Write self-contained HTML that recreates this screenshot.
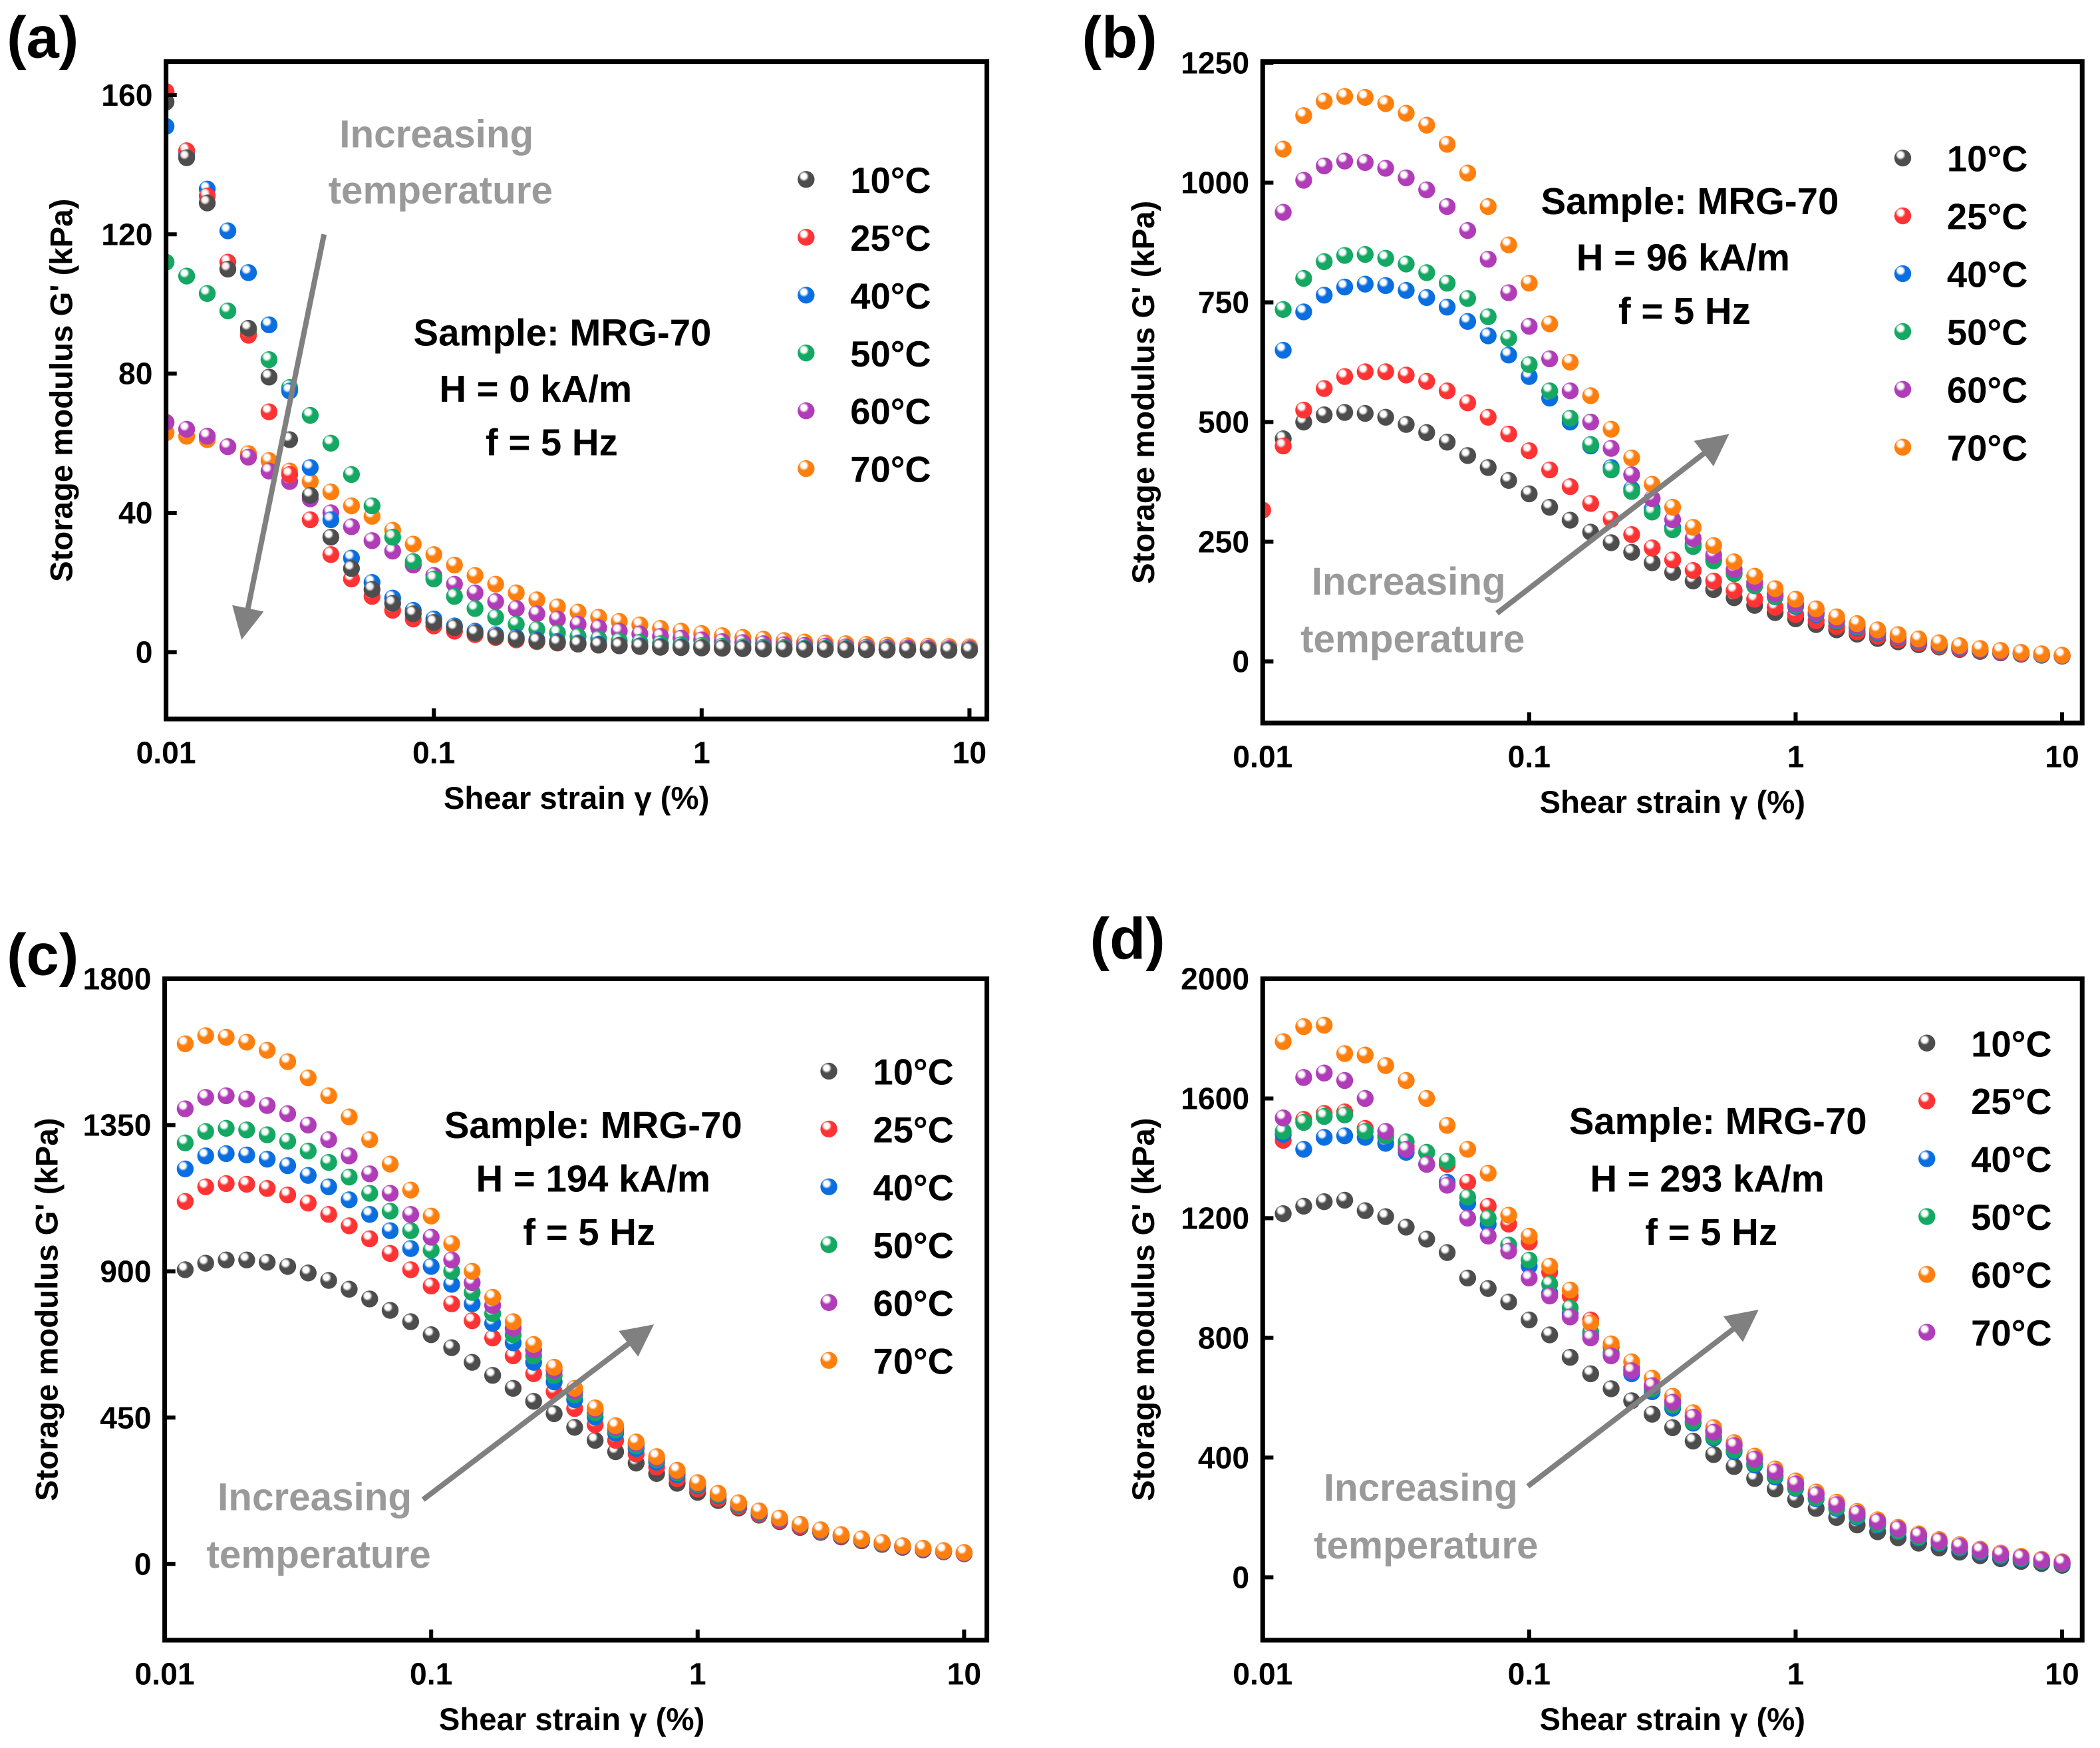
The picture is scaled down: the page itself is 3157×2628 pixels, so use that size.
<!DOCTYPE html>
<html><head><meta charset="utf-8"><title>Storage modulus vs shear strain</title>
<style>
html,body{margin:0;padding:0;background:#fff;}
svg{display:block;}
text{font-family:"Liberation Sans",Arial,sans-serif;font-weight:bold;}
</style></head>
<body>
<svg id="fig" width="3157" height="2628" viewBox="0 0 1568.3 1305.5" xmlns="http://www.w3.org/2000/svg">
<defs>
<marker id="ah" markerWidth="6" markerHeight="6" refX="4" refY="3" orient="auto" markerUnits="strokeWidth"><path d="M0,0 L6,3 L0,6 z" fill="#808080"/></marker>
</defs>
</svg>
<script>
// strain grid: 13 points per decade from 0.01 to 10
const strainIndex = Array.from({length:40},(_,i)=>i);
const seriesLabels = ["10°C","25°C","40°C","50°C","60°C","70°C"];
const seriesColors = ["#4d4d4d","#ff3333","#0a6ee0","#14a862","#b03cb8","#ff7f0e"];
const colorsD = ["#4d4d4d","#ff3333","#0a6ee0","#14a862","#ff7f0e","#b03cb8"];

// Panel (a) H = 0 kA/m  (start index 0)
const a10 = [158,142,129,110,93,79,61,45,33,24,18,14,11,8.5,7,5.5,4.5,3.8,3.2,2.7,2.3,2,1.8,1.6,1.4,1.3,1.2,1.1,1,0.9,0.9,0.8,0.8,0.7,0.7,0.6,0.6,0.6,0.5,0.5];
const a25 = [161,144,131,112,91,69,51,38,28,21,16,12,9.5,7.5,6,5,4.2,3.5,3,2.6,2.3,2,1.8,1.6,1.4,1.3,1.2,1.1,1,0.9,0.9,0.8,0.8,0.7,0.7,0.6,0.6,0.6,0.5,0.5];
const a40 = [151,143,133,121,109,94,75,53,38,27,20,15.5,12,9.5,7.5,6,5,4.2,3.5,3,2.6,2.3,2,1.8,1.6,1.5,1.3,1.2,1.1,1,0.9,0.9,0.8,0.8,0.7,0.7,0.7,0.6,0.6,0.6];
const a50 = [112,108,103,98,92,84,76,68,60,51,42,33,26,21,16,12.5,10,8,6.5,5.5,4.5,3.8,3.2,2.8,2.4,2.1,1.9,1.7,1.5,1.4,1.3,1.2,1.1,1,0.9,0.9,0.8,0.8,0.7,0.7];
const a60 = [66,64,62,59,56,52,49,44,40,36,32,29,25,22,19.5,17,14.5,12.5,11,9.5,8,7,6,5.2,4.5,4,3.5,3,2.7,2.4,2.1,1.9,1.7,1.5,1.4,1.3,1.2,1.1,1,1];
const a70 = [63,62,61,59,57,55,52,49,46,42,39,35,31,28,25,22,19.5,17,15,13,11.5,10,8.8,7.8,6.8,6,5.3,4.7,4.2,3.7,3.3,2.9,2.6,2.4,2.2,2,1.8,1.7,1.6,1.5];

// Panel (b) H = 96 kA/m (start index 1; 25°C starts at 0)
const b10 = [465,500,515,520,518,510,495,478,458,430,405,378,350,322,295,270,248,228,206,186,168,150,133,117,102,89,77,66,57,48,41,35,30,25,21,18,15,13,11];
const b25 = [316,450,525,570,595,605,605,598,585,565,540,510,475,440,400,365,330,297,265,237,212,190,168,148,130,113,98,85,73,62,53,45,38,32,27,23,19,16,14,12];
const b40 = [650,730,765,782,788,785,775,760,740,710,680,640,595,550,500,450,405,360,318,280,245,213,185,158,135,115,98,83,70,59,50,42,35,29,24,20,17,14,12];
const b50 = [735,800,835,848,850,842,830,812,790,758,720,675,620,565,508,453,400,355,312,275,240,210,183,158,136,117,100,85,72,61,51,43,36,30,25,21,17,14,12];
const b60 = [938,1005,1035,1045,1042,1030,1010,985,950,900,840,770,700,632,565,500,445,390,340,296,257,222,192,165,141,120,102,87,74,62,52,44,37,31,26,21,18,15,12];
const b70 = [1070,1140,1170,1180,1178,1165,1145,1120,1080,1020,950,870,790,705,625,555,485,425,370,322,280,242,208,178,152,130,110,93,79,66,56,47,39,33,27,23,19,16,13];

// Panel (c) H = 194 kA/m (start index 1)
const c10 = [905,925,935,935,928,915,895,872,845,815,780,745,705,665,620,580,540,500,462,420,380,345,310,278,248,220,195,172,150,130,112,97,83,71,60,51,43,37,31];
const c25 = [1115,1160,1170,1168,1155,1135,1110,1075,1040,1000,955,905,855,800,748,695,640,585,530,478,428,380,338,298,262,230,201,176,153,133,115,99,85,73,62,53,45,38,32];
const c40 = [1215,1255,1262,1258,1245,1225,1195,1160,1120,1075,1025,970,915,860,800,740,680,620,560,505,452,402,355,313,274,240,209,182,158,137,118,101,87,74,63,54,46,39,33];
const c50 = [1295,1330,1340,1335,1320,1300,1270,1235,1190,1140,1085,1025,965,900,835,770,705,640,580,520,465,412,363,320,280,244,212,184,160,138,119,102,88,75,64,55,47,40,34];
const c60 = [1400,1435,1440,1430,1410,1385,1350,1305,1255,1200,1140,1075,1005,935,865,795,725,658,595,532,475,420,370,325,284,247,215,186,161,139,120,103,89,76,65,55,47,40,34];
const c70 = [1600,1625,1620,1605,1580,1545,1495,1440,1375,1305,1230,1150,1070,985,900,820,745,675,605,540,480,425,375,330,288,250,217,188,163,141,122,105,90,77,66,56,48,41,35];

// Panel (d) H = 293 kA/m (start index 1)
const d10 = [1215,1240,1255,1260,1225,1205,1170,1130,1085,1000,965,920,860,810,735,680,630,590,545,500,455,410,370,330,295,260,230,200,175,152,132,114,98,84,72,62,53,46,40];
const d25 = [1460,1530,1550,1555,1500,1470,1440,1420,1380,1320,1240,1180,1120,1020,940,860,770,700,640,590,540,490,445,400,355,315,278,243,212,184,159,137,118,101,87,74,63,54,46];
const d40 = [1480,1430,1470,1475,1470,1450,1420,1380,1320,1250,1180,1110,1040,950,880,810,745,680,620,565,515,465,420,375,335,297,262,230,201,175,152,131,113,97,83,71,61,52,45];
const d50 = [1490,1520,1540,1545,1490,1475,1455,1420,1390,1270,1200,1110,1060,980,900,820,750,690,630,575,520,470,425,380,340,300,265,233,204,178,155,134,116,100,86,74,63,54,46];
const d60 = [1790,1840,1845,1750,1745,1710,1660,1600,1510,1430,1350,1210,1140,1040,960,850,780,720,665,605,550,500,450,405,362,322,285,251,220,192,167,145,126,109,94,81,70,60,52];
const d70 = [1535,1670,1685,1660,1600,1490,1430,1380,1310,1200,1140,1090,1000,940,870,800,740,690,640,585,535,485,440,395,352,312,276,243,213,186,162,140,121,104,90,77,66,57,49];

const xTickLabels = ["0.01","0.1","1","10"];
const aTicks = [0,40,80,120,160];
const bTicks = [0,250,500,750,1000,1250];
const cTicks = [0,450,900,1350,1800];
const dTicks = [0,400,800,1200,1600,2000];

const NS = "http://www.w3.org/2000/svg";
const svg = document.getElementById("fig");
function mk(tag, attrs, parent){
  const e = document.createElementNS(NS, tag);
  for (const k in attrs) e.setAttribute(k, attrs[k]);
  (parent||svg).appendChild(e);
  return e;
}
function strainOf(i){ return 0.01*Math.pow(10, i/13); }

const defs = svg.querySelector("defs");
const allColors = ["#4d4d4d","#ff3333","#0a6ee0","#14a862","#b03cb8","#ff7f0e"];
allColors.forEach((c,k)=>{
  const g = mk("radialGradient",{id:"g"+k,cx:"0.4",cy:"0.35",r:"0.65",fx:"0.35",fy:"0.3"},defs);
  mk("stop",{offset:"0",  "stop-color":"#ffffff"},g);
  mk("stop",{offset:"0.25","stop-color":"#ffffff","stop-opacity":"0.9"},g);
  mk("stop",{offset:"0.45","stop-color":c},g);
  mk("stop",{offset:"1","stop-color":c},g);
});
function gradFor(c){ return "url(#g"+allColors.indexOf(c)+")"; }

function panel(p){
  const L=p.box[0],T=p.box[1],R=p.box[2],B=p.box[3];
  const xs = v => p.x0 + Math.log10(v/0.01)*p.dec;
  const ys = v => p.y0 - v*p.yk;
  const grp = mk("g",{});
  
  
  const clip = mk("clipPath",{id:"clip"+p.id},defs);
  mk("rect",{x:L,y:T,width:R-L,height:B-T},clip);
  const sg = mk("g",{"clip-path":"url(#clip"+p.id+")"},grp);
  const n = p.series.length;
  for (let k=0;k<n;k++){
    const s = p.blackOnTop ? n-1-k : k;
    const vals=p.series[s], st=p.starts[s], col=p.colors[s];
    const g2 = mk("g",{},sg);
    
    
    vals.forEach((v,j)=>{
      const i = strainIndex[st+j];
      const c = mk("circle",{cx:xs(strainOf(i)),cy:ys(v),r:6.3,fill:gradFor(col)},g2);
      
      
    });
  }
  const fr = mk("rect",{x:L,y:T,width:R-L,height:B-T,fill:"none",stroke:"#000","stroke-width":3.5},grp);
  
  
  xTickLabels.forEach((lab)=>{
    const x = xs(parseFloat(lab));
    mk("line",{x1:x,y1:B,x2:x,y2:B-8,stroke:"#000","stroke-width":3},grp);
    const t = mk("text",{x:x,y:B+33,"text-anchor":"middle","font-size":23},grp);
    t.textContent=lab;
    
    
  });
  p.ticks.forEach(v=>{
    const y = ys(v);
    mk("line",{x1:L,y1:y,x2:L+8,y2:y,stroke:"#000","stroke-width":3},grp);
    const t = mk("text",{x:L-10,y:y+8,"text-anchor":"end","font-size":23},grp);
    t.textContent=String(v);
    
    
  });
  const xt = mk("text",{x:(L+R)/2-(p.id==="c"?3:0),y:B+67,"text-anchor":"middle","font-size":23.5},grp);
  xt.textContent="Shear strain γ (%)";
  
  
  const cy=(T+B)/2;
  const yt = mk("text",{x:p.ytx,y:cy,"text-anchor":"middle","font-size":23.5,transform:"rotate(-90 "+p.ytx+" "+cy+")"},grp);
  yt.textContent="Storage modulus G' (kPa)";
  
  
  const pl = mk("text",{x:p.lab[0],y:p.lab[1],"font-size":44},grp);
  pl.textContent="("+p.id+")";
  
  
  p.labels.forEach((lab,k)=>{
    const y = p.leg[1]+k*43.2;
    const c = mk("circle",{cx:p.leg[0],cy:y,r:6.3,fill:gradFor(p.colors[k])},grp);
    
    
    const t = mk("text",{x:p.leg[0]+33,y:y+10,"font-size":27},grp);
    t.textContent=lab;
    
    
  });
  p.ann.forEach((a,k)=>{
    const t = mk("text",{x:a[1],y:a[2],"text-anchor":"middle","font-size":28},grp);
    t.textContent=a[0];
    
    
  });
  p.gray.forEach(a=>{
    const t = mk("text",{x:a[1],y:a[2],"text-anchor":"middle","font-size":29,fill:"#9a9a9a"},grp);
    t.textContent=a[0];
    
    
  });
  const ar = mk("line",{x1:p.arrow[0],y1:p.arrow[1],x2:p.arrow[2],y2:p.arrow[3],stroke:"#808080","stroke-width":4,"marker-end":"url(#ah)"},grp);
  
  
}

panel({id:"a",box:[124,46,737,537],x0:124,dec:200,y0:487,yk:2.6,ticks:aTicks,ytx:54,lab:[5,43],blackOnTop:true,
  series:[a10,a25,a40,a50,a60,a70],starts:[0,0,0,0,0,0],colors:seriesColors,labels:seriesLabels,leg:[602,134],
  ann:[["Sample: MRG-70",420,258],["H = 0 kA/m",400,300],["f = 5 Hz",412,340]],
  gray:[["Increasing",326,110],["temperature",329,152]],arrow:[242,175,182,470]});
panel({id:"b",box:[943,46,1555,540],x0:943,dec:199,y0:494,yk:447/1250,ticks:bTicks,ytx:862,lab:[808,43],blackOnTop:false,
  series:[b10,b25,b40,b50,b60,b70],starts:[1,0,1,1,1,1],colors:seriesColors,labels:seriesLabels,leg:[1421,118],
  ann:[["Sample: MRG-70",1262,160],["H = 96 kA/m",1257,202],["f = 5 Hz",1258,242]],
  gray:[["Increasing",1052,444],["temperature",1055,487]],arrow:[1118,458,1285,329]});
panel({id:"c",box:[123,731,737,1225],x0:123,dec:199,y0:1168,yk:437/1800,ticks:cTicks,ytx:43,lab:[5,728],blackOnTop:false,
  series:[c10,c25,c40,c50,c60,c70],starts:[1,1,1,1,1,1],colors:seriesColors,labels:seriesLabels,leg:[619,800],
  ann:[["Sample: MRG-70",443,850],["H = 194 kA/m",443,890],["f = 5 Hz",440,930]],
  gray:[["Increasing",235,1128],["temperature",238,1171]],arrow:[316,1120,482,994]});
panel({id:"d",box:[943,731,1555,1225],x0:943,dec:199,y0:1178,yk:447/2000,ticks:dTicks,ytx:862,lab:[814,716],blackOnTop:false,
  series:[d10,d25,d40,d50,d60,d70],starts:[1,1,1,1,1,1],colors:colorsD,labels:seriesLabels,leg:[1439,779],
  ann:[["Sample: MRG-70",1283,847],["H = 293 kA/m",1275,890],["f = 5 Hz",1278,930]],
  gray:[["Increasing",1061,1121],["temperature",1065,1164]],arrow:[1141,1110,1307,983]});
</script>
</body></html>
